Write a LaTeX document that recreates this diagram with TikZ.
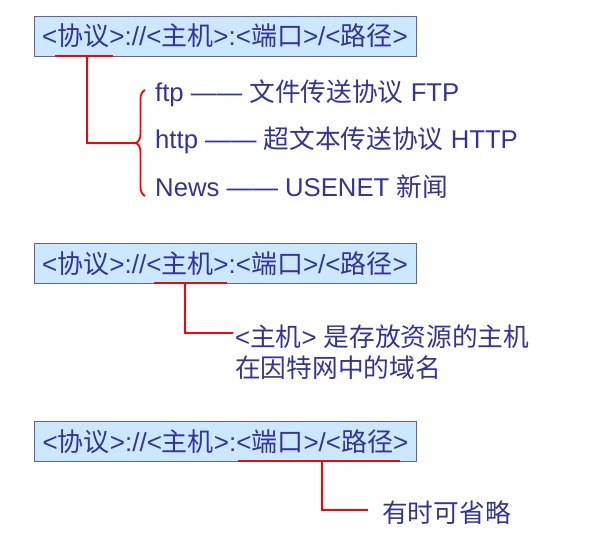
\documentclass[tikz,border=0pt]{standalone}
\usepackage{fontspec}
\setmainfont{Liberation Sans}
\newfontfamily\cjk{Noto Sans CJK SC}
\usetikzlibrary{decorations.pathreplacing}
\definecolor{txtblue}{HTML}{333399}
\definecolor{boxfill}{HTML}{CCE8FF}
\definecolor{boxline}{HTML}{6060B0}
\definecolor{redline}{HTML}{FF0000}
\tikzset{
  urlbox/.style={draw=boxline, line width=1pt, fill=boxfill, minimum width=382pt, minimum height=40pt, inner sep=0pt, text=txtblue, font=\fontsize{26}{30}\selectfont},
  lbl/.style={anchor=west, inner sep=0pt, text=txtblue, font=\fontsize{25.7}{31}\selectfont, align=left},
  redc/.style={draw=redline, line width=2.6pt},
  bracec/.style={draw=redline, line width=1.8pt, decorate, decoration={brace, mirror, amplitude=9pt}}
}
\newcommand{\urltext}{<{\cjk 协议}>://<{\cjk 主机}>:<{\cjk 端口}>/<{\cjk 路径}>}
\begin{document}
\begin{tikzpicture}[x=1pt, y=-1pt]
\useasboundingbox (0,0) rectangle (600,547);
% box 1
\node[urlbox] (b1) at (225,36) {\urltext};
\coordinate (u1a) at (55,56);
\coordinate (u1b) at (113,56);
\coordinate (u1m) at (87,56);
\coordinate (u1c) at (87,143);
\coordinate (u1d) at (136,143);
\draw[redc] (u1a) -- (u1b);
\draw[redc] (u1m) -- (u1c) -- (u1d);
\coordinate (brt) at (145,90);
\coordinate (brb) at (145,196);
\draw[bracec] (brt) -- (brb);
\node[lbl] (l1) at (155,93) {ftp —— {\cjk 文件传送协议} FTP};
\node[lbl] (l2) at (155,140) {http —— {\cjk 超文本传送协议} HTTP};
\node[lbl] (l3) at (155,187) {News —— USENET {\cjk 新闻}};
% box 2
\node[urlbox] (b2) at (225,263.5) {\urltext};
\coordinate (u2a) at (154,283);
\coordinate (u2b) at (227,283);
\coordinate (u2m) at (185,283);
\coordinate (u2c) at (185,333);
\coordinate (u2d) at (233,333);
\draw[redc] (u2a) -- (u2b);
\draw[redc] (u2m) -- (u2c) -- (u2d);
\node[lbl] (t2) at (235,352) {<{\cjk 主机}> {\cjk 是存放资源的主机}\\{\cjk 在因特网中的域名}};
% box 3
\node[urlbox] (b3) at (225.5,441.5) {\urltext};
\coordinate (u3a) at (238,461);
\coordinate (u3b) at (400,461);
\coordinate (u3m) at (322,461);
\coordinate (u3c) at (322,510);
\coordinate (u3d) at (368,510);
\draw[redc] (u3a) -- (u3b);
\draw[redc] (u3m) -- (u3c) -- (u3d);
\node[lbl] (t3) at (382,513) {{\cjk 有时可省略}};
\end{tikzpicture}
\end{document}
